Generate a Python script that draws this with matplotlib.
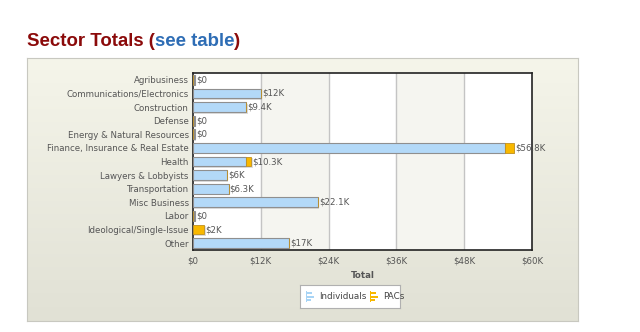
import numpy as np
import matplotlib.pyplot as plt
from matplotlib.patches import Rectangle

# sector totals, in $K
sectors = ['Agribusiness', 'Communications/Electronics', 'Construction', 'Defense',
           'Energy & Natural Resources', 'Finance, Insurance & Real Estate', 'Health',
           'Lawyers & Lobbyists', 'Transportation', 'Misc Business', 'Labor',
           'Ideological/Single-Issue', 'Other']
individuals = [0, 12.0, 9.4, 0, 0, 55.3, 9.3, 6.0, 6.3, 22.1, 0, 0, 17.0]
pacs = [0, 0, 0, 0, 0, 1.5, 1.0, 0, 0, 0, 0, 2.0, 0]
totals = ['$0', '$12K', '$9.4K', '$0', '$0', '$56.8K', '$10.3K', '$6K', '$6.3K',
          '$22.1K', '$0', '$2K', '$17K']
xticks = [0, 12, 24, 36, 48, 60]
xticklabels = ['$0', '$12K', '$24K', '$36K', '$48K', '$60K']

W, H = 640, 332
fig = plt.figure(figsize=(W / 100, H / 100), dpi=100)
fig.patch.set_facecolor('white')

# title, in three pieces for the two colours
fig.canvas.draw()
r = fig.canvas.get_renderer()
tx = 27 / W
for part, c in [('Sector Totals (', '#8b0a0a'), ('see table', '#2e6db5'), (')', '#8b0a0a')]:
    t = fig.text(tx, 1 - 41 / H, part, color=c, fontsize=13.4, fontweight='bold',
                 family='Liberation Sans', va='center')
    tx = t.get_window_extent(r).x1 / W

# panel background with gradient
px0, px1, py0, py1 = 27, 578, 58, 321
bg = fig.add_axes([px0 / W, 1 - py1 / H, (px1 - px0) / W, (py1 - py0) / H])
grad = np.linspace(0, 1, 100)[:, None]
cols = np.array([245, 245, 234]) * (1 - grad[..., None]) + np.array([225, 225, 213]) * grad[..., None]
bg.imshow(cols.astype(np.uint8), aspect='auto', extent=[0, 1, 0, 1], origin='upper')
bg.set_xticks([])
bg.set_yticks([])
for s in bg.spines.values():
    s.set_color('#c8c8c0')

# plot area
ax0, ax1, ay0, ay1 = 193, 532, 73, 250
ax = fig.add_axes([ax0 / W, 1 - ay1 / H, (ax1 - ax0) / W, (ay1 - ay0) / H])
ax.set_xlim(0, 60)
n = len(sectors)
ax.set_ylim(n - 0.5, -0.5)
for i, x in enumerate(xticks[:-1]):
    ax.axvspan(x, x + 12, color='white' if i % 2 == 0 else '#f5f5f0', zorder=0)
for x in xticks[1:-1]:
    ax.axvline(x, color='#c4c4c4', lw=1, zorder=1)

y = np.arange(n)
h = 0.72
# shadow
for yi, a, b in zip(y, individuals, pacs):
    tot = max(a + b, 0.35)
    ax.add_patch(Rectangle((0.25, yi - h / 2 + 0.12), tot, h, color='#a0a0a0',
                           alpha=0.35, zorder=2, lw=0))
ind_w = [v if (v > 0 or p > 0) else 0.35 for v, p in zip(individuals, pacs)]
ind_col = ['#b3d9f8' if v > 0 else '#8c8c8c' for v in individuals]
ax.barh(y, ind_w, height=h, color=ind_col, edgecolor='#8f8f8f', lw=0.8, zorder=3)
ax.barh(y, pacs, left=individuals, height=h, color='#f8b800', edgecolor='#c09020',
        lw=0.6, zorder=3)
for yi, a, b, lab in zip(y, individuals, pacs, totals):
    ax.text(max(a + b, 0.35) + 0.2, yi, lab, fontsize=6.2, color='#555555',
            va='center', ha='left', zorder=4)

ax.set_yticks(y)
ax.set_yticklabels(sectors, fontsize=6.2, color='#555555')
ax.set_xticks(xticks)
ax.set_xticklabels(xticklabels, fontsize=6.2, color='#555555')
ax.tick_params(length=0, pad=3)
ax.tick_params(axis='x', pad=5)
for s in ax.spines.values():
    s.set_color('#222222')
    s.set_linewidth(1.2)
ax.set_xlabel('Total', fontsize=6.2, fontweight='bold', color='#555555', labelpad=4)

# legend box
lx0, lx1, ly0, ly1 = 300, 400, 285, 308
lg = fig.add_axes([lx0 / W, 1 - ly1 / H, (lx1 - lx0) / W, (ly1 - ly0) / H])
lg.set_facecolor('white')
lg.set_xticks([])
lg.set_yticks([])
for s in lg.spines.values():
    s.set_color('#b0b0b0')
lg.set_xlim(0, lx1 - lx0)
lg.set_ylim(ly1 - ly0, 0)
for x0, c, lab in [(6, '#a8d4f5', 'Individuals'), (70, '#f8b800', 'PACs')]:
    for yy, ww in [(7, 6), (10.5, 8), (14, 5)]:
        lg.add_patch(Rectangle((x0, yy), ww, 2.2, color=c, lw=0))
    lg.add_patch(Rectangle((x0, 6), 1.2, 11, color=c, lw=0))
    lg.text(x0 + 13, 11.5, lab, fontsize=6.3, color='#444444', va='center')

fig.savefig('out.png', dpi=100)
